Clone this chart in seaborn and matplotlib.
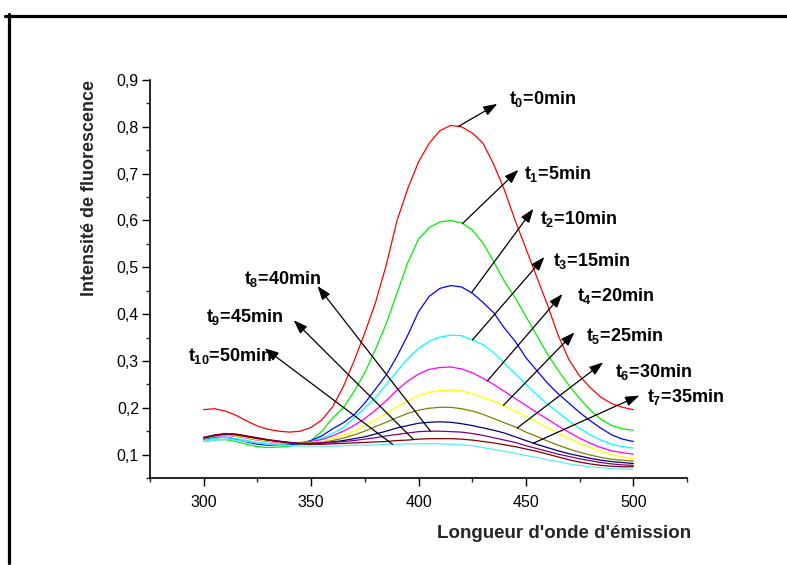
import numpy as np
import pandas as pd
import matplotlib
matplotlib.use("Agg")
import matplotlib.pyplot as plt
from matplotlib.lines import Line2D
from matplotlib.ticker import MultipleLocator
import seaborn as sns

# ---------------- data ----------------
wavelength = list(range(300, 505, 5))

t0 = [.196, .198, .193, .184, .172, .161, .154, .150, .148, .150, .158, .174, .202, .245, .300, .360, .425,
      .505, .600, .668, .725, .765, .792, .803, .800, .787, .765, .720, .665, .600, .540, .480, .420, .355,
      .303, .268, .243, .222, .209, .201, .196]
t1 = [.128, .131, .132, .128, .122, .117, .115, .116, .118, .122, .130, .150, .178, .200, .235, .275, .325,
      .380, .445, .510, .560, .585, .597, .600, .595, .580, .552, .512, .470, .435, .395, .355, .315, .280,
      .248, .220, .195, .175, .162, .155, .152]
t2 = [.132, .136, .137, .133, .127, .122, .120, .120, .121, .124, .130, .140, .155, .168, .185, .210, .240,
      .270, .310, .355, .405, .438, .455, .461, .458, .445, .425, .403, .370, .342, .307, .280, .253, .230,
      .210, .190, .172, .156, .142, .133, .128]
t3 = [.131, .135, .137, .134, .130, .126, .124, .123, .123, .125, .128, .135, .145, .158, .178, .200, .222,
      .250, .278, .305, .327, .342, .351, .355, .354, .345, .335, .318, .295, .273, .250, .228, .208, .190,
      .172, .156, .142, .131, .122, .117, .114]
t4 = [.135, .139, .141, .139, .135, .131, .128, .126, .125, .126, .128, .132, .140, .150, .162, .177, .195,
      .215, .238, .257, .272, .282, .286, .287, .283, .275, .263, .250, .235, .220, .205, .190, .176, .161,
      .148, .135, .124, .115, .108, .104, .101]
t5 = [.136, .140, .142, .140, .136, .132, .129, .127, .125, .125, .126, .128, .134, .141, .150, .161, .174,
      .188, .202, .215, .226, .233, .237, .238, .236, .230, .222, .214, .204, .193, .181, .170, .157, .146,
      .135, .124, .115, .107, .100, .095, .091]
t6 = [.135, .140, .143, .142, .138, .134, .131, .128, .126, .125, .125, .126, .130, .135, .142, .150, .160,
      .169, .179, .188, .195, .199, .201, .201, .198, .193, .186, .177, .168, .159, .148, .139, .129, .120,
      .112, .105, .099, .094, .090, .088, .086]
t7 = [.136, .141, .144, .143, .139, .135, .131, .128, .125, .123, .122, .124, .127, .130, .134, .138, .144,
      .150, .157, .162, .167, .169, .170, .169, .166, .162, .157, .152, .146, .138, .130, .122, .115, .108,
      .102, .097, .092, .088, .085, .083, .081]
t8 = [.137, .142, .145, .144, .140, .136, .132, .129, .126, .124, .124, .125, .126, .128, .130, .133, .136,
      .140, .143, .146, .149, .150, .150, .149, .148, .145, .141, .136, .131, .126, .119, .113, .107, .101,
      .096, .091, .087, .083, .080, .078, .077]
t9 = [.136, .141, .144, .143, .139, .135, .131, .128, .125, .123, .122, .122, .123, .124, .125, .126, .127,
      .128, .130, .131, .133, .134, .134, .134, .133, .131, .128, .125, .121, .117, .112, .107, .101, .095,
      .089, .084, .080, .077, .075, .074, .074]
t10 = [.128, .131, .133, .131, .128, .125, .122, .120, .119, .118, .118, .118, .118, .119, .120, .120, .121,
       .122, .122, .123, .123, .123, .123, .122, .121, .119, .115, .111, .107, .103, .098, .094, .089, .085,
       .080, .077, .074, .072, .070, .069, .069]

series = [t0, t1, t2, t3, t4, t5, t6, t7, t8, t9, t10]
series_names = ["t0", "t1", "t2", "t3", "t4", "t5", "t6", "t7", "t8", "t9", "t10"]
label_texts = [r"$t_{0}$=0min", r"$t_{1}$=5min", r"$t_{2}$=10min", r"$t_{3}$=15min", r"$t_{4}$=20min",
               r"$t_{5}$=25min", r"$t_{6}$=30min", r"$t_{7}$=35min", r"$t_{8}$=40min", r"$t_{9}$=45min",
               r"$t_{10}$=50min"]
colors = ["#ff0000", "#00ee00", "#0000ff", "#00ffff", "#ff00ff", "#ffff00", "#808000", "#000080",
          "#800080", "#800000", "#60e8f8"]

x_ticks = [300, 350, 400, 450, 500]
x_tick_labels = ["300", "350", "400", "450", "500"]
y_ticks = [0.1, 0.2, 0.3, 0.4, 0.5, 0.6, 0.7, 0.8, 0.9]
y_tick_labels = ["0,1", "0,2", "0,3", "0,4", "0,5", "0,6", "0,7", "0,8", "0,9"]

# annotation layout: (wavelength on curve where arrow starts, arrow tip (x,y), text anchor (x,y))
annot_layout = [
    (418.6, (436.7, 0.849), (442.3, 0.860)),
    (420.5, (446.5, 0.708), (449.3, 0.700)),
    (424.7, (453.5, 0.625), (456.7, 0.603)),
    (425.1, (458.6, 0.522), (462.8, 0.513)),
    (432.1, (467.0, 0.443), (474.0, 0.438)),
    (439.5, (472.6, 0.361), (478.1, 0.353)),
    (446.0, (486.0, 0.297), (491.6, 0.276)),
    (453.5, (502.8, 0.226), (506.5, 0.222)),
    (405.6, (353.0, 0.460), (318.6, 0.475)),
    (397.7, (341.9, 0.387), (300.9, 0.393)),
    (387.9, (328.4, 0.327), (292.6, 0.310)),
]

# ---------------- style ----------------
sns.set_style("ticks")
plt.rcParams["font.family"] = ["Liberation Sans", "DejaVu Sans"]
plt.rcParams["mathtext.fontset"] = "custom"
plt.rcParams["mathtext.rm"] = "Liberation Sans:bold"
plt.rcParams["mathtext.it"] = "Liberation Sans:bold"
plt.rcParams["mathtext.bf"] = "Liberation Sans:bold"

df = pd.DataFrame({
    "wavelength": np.tile(wavelength, len(series)),
    "intensity": np.concatenate([np.array(s) for s in series]),
    "time": np.repeat(series_names, len(wavelength)),
})

fig = plt.figure(figsize=(7.87, 5.65), dpi=100)
ax = fig.add_axes([150 / 787, 1 - 478 / 565, 537 / 787, 398 / 565])

sns.lineplot(data=df, x="wavelength", y="intensity", hue="time", hue_order=series_names,
             palette=colors, estimator=None, legend=False, linewidth=0.9, ax=ax)

ax.set_xlim(275, 525)
ax.set_ylim(0.05, 0.9)
ax.set_xticks(x_ticks)
ax.set_xticklabels(x_tick_labels)
ax.set_yticks(y_ticks)
ax.set_yticklabels(y_tick_labels)
ax.xaxis.set_minor_locator(MultipleLocator(25))
ax.yaxis.set_minor_locator(MultipleLocator(0.05))
ax.tick_params(which="major", direction="out", length=6, width=1.0, labelsize=11.5, colors="black")
ax.tick_params(which="minor", direction="out", length=3, width=1.0)
ax.tick_params(axis="x", which="major", pad=6)
ax.tick_params(axis="y", which="major", pad=2)
for sp in ["top", "right"]:
    ax.spines[sp].set_visible(False)
for sp in ["left", "bottom"]:
    ax.spines[sp].set_linewidth(1.2)
    ax.spines[sp].set_color("black")
ax.set_xlabel("")
ax.set_ylabel("")

# annotations
for s, txt, (xs, tip, tpos) in zip(series, label_texts, annot_layout):
    ys = float(np.interp(xs, wavelength, s))
    ax.annotate("", xy=tip, xytext=(xs, ys),
                arrowprops=dict(arrowstyle="-|>,head_length=0.7,head_width=0.25", color="black",
                                lw=0.9, shrinkA=0, shrinkB=0, mutation_scale=12))
    ax.text(tpos[0], tpos[1], txt, fontsize=13, fontweight="bold", ha="left", va="center",
            color="black", clip_on=False)

# axis titles
fig.text(564 / 787, 1 - 533 / 565, "Longueur d'onde d'émission", fontsize=13.5, fontweight="bold",
         ha="center", va="center")
fig.text(90 / 787, 1 - 188.5 / 565, "Intensité de fluorescence", fontsize=13, fontweight="bold",
         rotation=90, ha="center", va="center")

# figure frame (top and left edges)
fig.add_artist(Line2D([5 / 787, 1.0], [1 - 15.5 / 565, 1 - 15.5 / 565], transform=fig.transFigure,
                      color="black", lw=2.3))
fig.add_artist(Line2D([8.5 / 787, 8.5 / 787], [1 - 563 / 565, 1 - 14 / 565], transform=fig.transFigure,
                      color="black", lw=2.3))

fig.savefig("out.png", dpi=100)
